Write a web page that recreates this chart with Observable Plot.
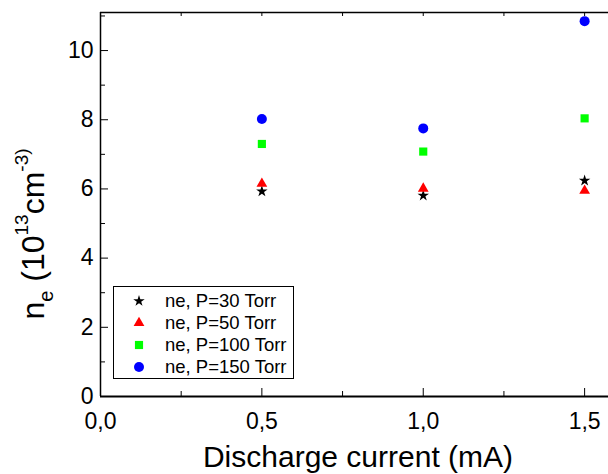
<!DOCTYPE html>
<html><head><meta charset="utf-8">
<script src="https://cdn.jsdelivr.net/npm/d3@7"></script>
<script src="https://cdn.jsdelivr.net/npm/@observablehq/plot@0.6"></script>
<style>
body{margin:0;background:#fff;}
#chart{position:relative;width:608px;height:474px;}
</style></head><body><div id="chart"></div>
<script>
// ---- data ----
const currents = [0.5, 1.0, 1.5];
const p30  = [5.93, 5.81, 6.24];
const p50  = [6.15, 6.01, 5.95];
const p100 = [7.30, 7.08, 8.04];
const p150 = [8.02, 7.75, 10.85];
const seriesLabels = ["ne, P=30 Torr", "ne, P=50 Torr", "ne, P=100 Torr", "ne, P=150 Torr"];
const xMajor = [0, 0.5, 1.0, 1.5];
const xMinor = [0.25, 0.75, 1.25];
const yMajor = [0, 2, 4, 6, 8, 10];
const yMinor = [1, 3, 5, 7, 9, 11];
const xTitle = "Discharge current (mA)";
const xDomain = [0, 1.574];
const yDomain = [0, 11.1];

const seriesStyle = [
  {symbol: "star", fill: "#000000", r: 3.6, d3sym: d3.symbolStar},
  {symbol: "triangle", fill: "#ff0000", r: 4.0, d3sym: d3.symbolTriangle},
  {symbol: "square", fill: "#00ff00", r: 4.6, d3sym: d3.symbolSquare},
  {symbol: "circle", fill: "#0000ff", r: 5, d3sym: d3.symbolCircle}
];
const seriesValues = [p30, p50, p100, p150];
const rows = seriesValues.map(vals => currents.map((c, i) => ({current: c, ne: vals[i]})));

const fmtX = d => d.toFixed(1).replace(".", ",");

const plot = Plot.plot({
  width: 608, height: 474,
  marginLeft: 100, marginRight: 0, marginTop: 12, marginBottom: 78,
  style: {fontFamily: "'Liberation Sans', Arial, sans-serif", fontSize: "23px", color: "#000", background: "#fff"},
  x: {domain: xDomain},
  y: {domain: yDomain},
  marks: [
    Plot.axisX({ticks: xMajor, tickSize: -8, tickPadding: 24, tickFormat: fmtX, label: null, fontSize: 23}),
    Plot.axisX({ticks: xMinor, tickSize: -5, tickFormat: () => "", label: null}),
    Plot.axisX({anchor: "top", ticks: [...xMajor, ...xMinor], tickSize: -3, tickFormat: () => "", label: null}),
    Plot.axisY({ticks: yMajor, tickSize: -8, tickPadding: 15, tickFormat: d3.format("d"), label: null, fontSize: 23}),
    Plot.axisY({ticks: yMinor, tickSize: -5, tickFormat: () => "", label: null}),
    Plot.ruleY([yDomain[0]], {stroke: "#000", strokeWidth: 1.8}),
    Plot.ruleY([yDomain[1]], {stroke: "#000", strokeWidth: 1.5}),
    Plot.ruleX([xDomain[0]], {stroke: "#000", strokeWidth: 1.5}),
    ...rows.map((data, k) => Plot.dot(data, {
      x: "current", y: "ne", symbol: seriesStyle[k].symbol,
      fill: seriesStyle[k].fill, stroke: "none", r: seriesStyle[k].r
    }))
  ]
});
document.getElementById("chart").appendChild(plot);

const svg = d3.select(plot);
// x title
svg.append("text")
  .attr("x", 358).attr("y", 467)
  .attr("text-anchor", "middle")
  .style("font-size", "30px")
  .attr("fill", "#000")
  .text(xTitle);

// y title
const yt = svg.append("text")
  .attr("transform", "translate(44,234) rotate(-90)")
  .attr("text-anchor", "middle")
  .style("font-size", "32px")
  .attr("fill", "#000");
yt.append("tspan").text("n");
yt.append("tspan").style("font-size", "20px").attr("dy", 9).text("e");
yt.append("tspan").attr("dy", -9).text(" (10");
yt.append("tspan").style("font-size", "19px").attr("dy", -16).text("13");
yt.append("tspan").attr("dy", 16).text("cm");
yt.append("tspan").style("font-size", "19px").attr("dy", -16).text("-3)");

// legend
const lg = svg.append("g");
lg.append("rect").attr("x", 113.5).attr("y", 286.5).attr("width", 180).attr("height", 92)
  .attr("fill", "#fff").attr("stroke", "#000").attr("stroke-width", 1);
seriesLabels.forEach((lab, k) => {
  const cy = 301 + k * 22;
  const st = seriesStyle[k];
  lg.append("path")
    .attr("transform", `translate(139,${cy})`)
    .attr("d", d3.symbol().type(st.d3sym).size(Math.PI * st.r * st.r)())
    .attr("fill", st.fill);
  lg.append("text").attr("x", 165).attr("y", cy).attr("dy", "0.35em")
    .attr("text-anchor", "start")
    .style("font-size", "18.5px").attr("fill", "#000").text(lab);
});
</script>
</body></html>
